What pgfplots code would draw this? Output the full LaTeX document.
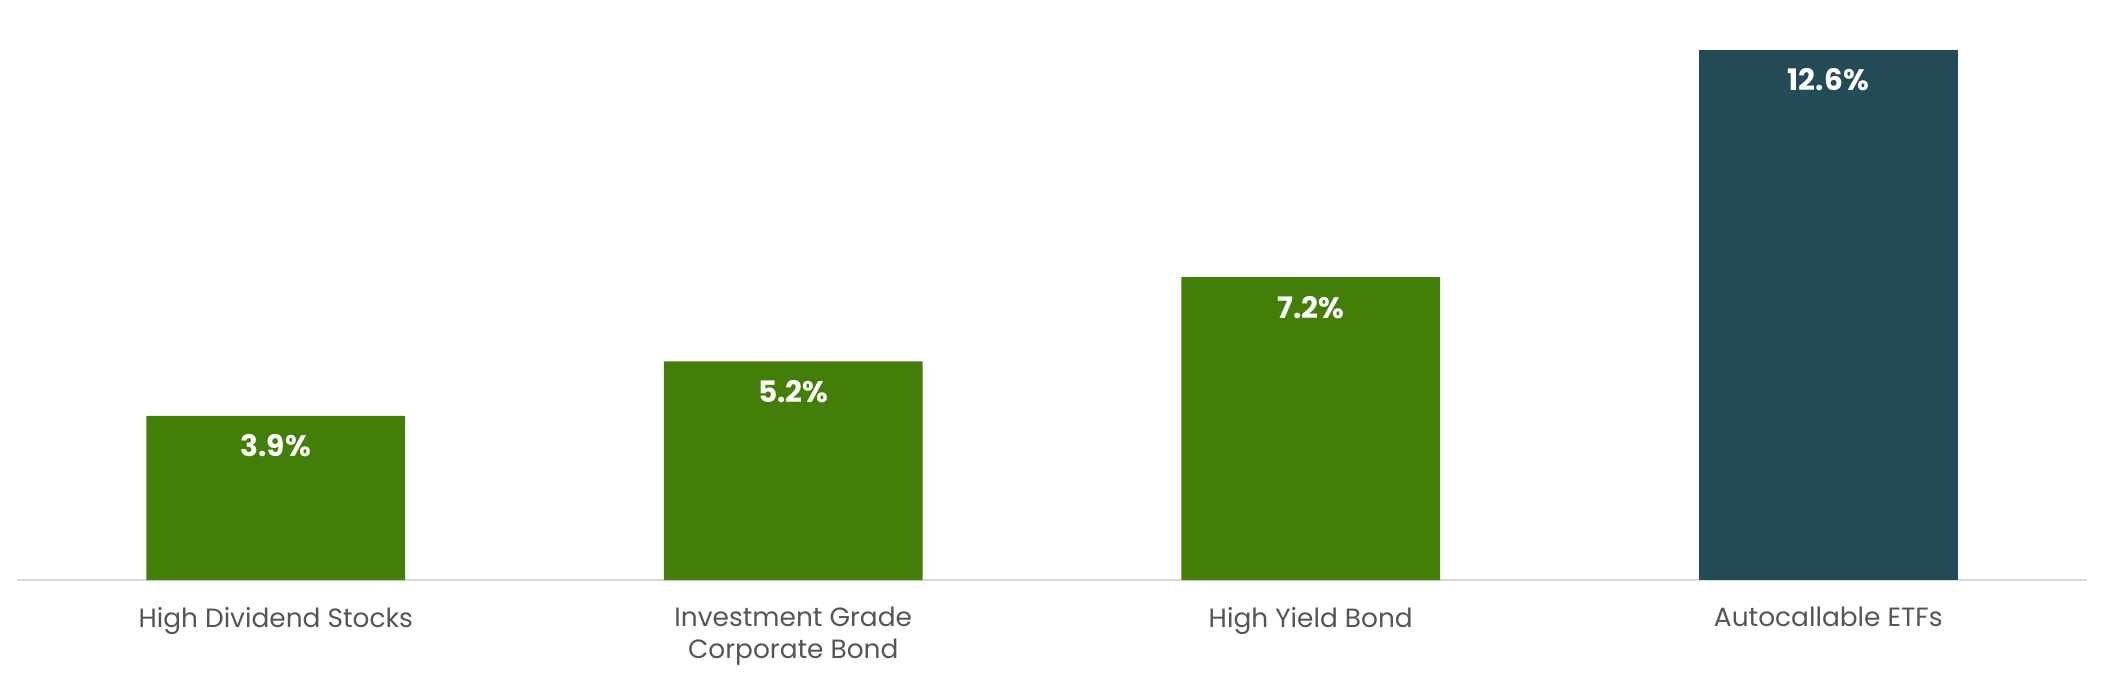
\documentclass[border=0pt]{standalone}
\usepackage{fontspec}
\setmainfont{Poppins}
\usepackage{pgfplots}
\pgfplotsset{compat=1.18}
\definecolor{barGreen}{HTML}{437E08}
\definecolor{barTeal}{HTML}{244C57}
\definecolor{txtGray}{HTML}{555555}
\definecolor{lineGray}{HTML}{D9D9D9}
\begin{document}
\begin{tikzpicture}
\begin{axis}[
    name=ax,
    scale only axis,
    width=1035pt, height=290pt,
    ybar, bar width=0.5, bar shift=0pt,
    xmin=-0.5, xmax=3.5,
    ymin=0, ymax=13.79,
    axis y line=none,
    axis x line*=bottom,
    x axis line style={lineGray, line width=1pt},
    xtick={0,1,2,3},
    xticklabels={High Dividend Stocks, {Investment Grade\\Corporate Bond}, High Yield Bond, Autocallable ETFs},
    major tick length=0pt,
    xticklabel style={align=center, font=\fontsize{13.2}{16}\selectfont, text=txtGray, yshift=-10pt},
    /pgf/number format/assume math mode=true,
    nodes near coords={\pgfmathprintnumber[fixed,precision=1,fixed zerofill]{\pgfplotspointmeta}\%},
    every node near coord/.append style={anchor=center, yshift=-15pt, text=white, font=\fontsize{14.8}{16}\selectfont\bfseries},
]
\addplot[fill=barGreen, draw=none] coordinates {(0,3.9) (1,5.2) (2,7.2)};
\addplot[fill=barTeal, draw=none] coordinates {(3,12.6)};
\end{axis}
\pgfresetboundingbox
\path[use as bounding box] ([xshift=-8.5pt,yshift=-53pt]ax.south west) rectangle ([xshift=8.5pt]ax.north east);
\end{tikzpicture}
\end{document}
